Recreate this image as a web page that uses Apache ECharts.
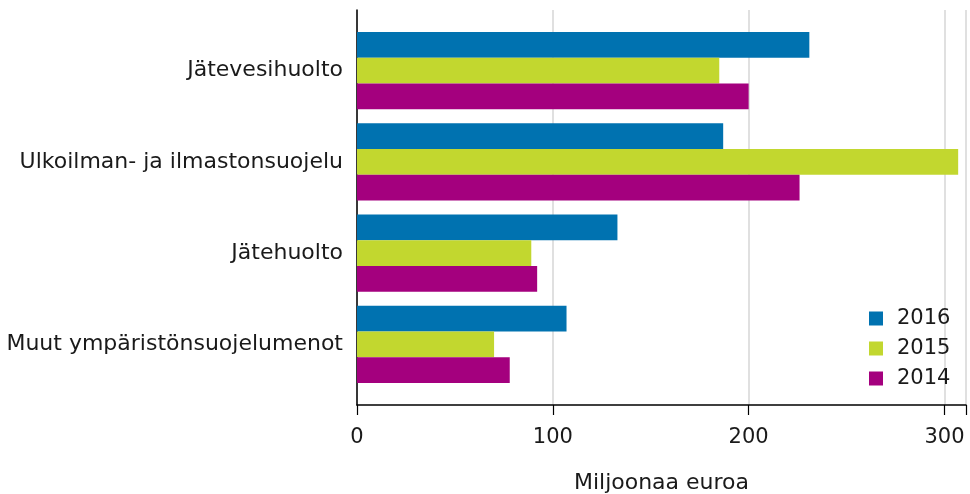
<!DOCTYPE html>
<html>
<head>
<meta charset="utf-8">
<script src="https://cdn.jsdelivr.net/npm/echarts@6/dist/echarts.min.js"></script>
<style>html,body{margin:0;padding:0;background:#fff}#c{width:970px;height:494px}</style>
</head>
<body>
<div id="c"></div>
<script>
const categories = ['Jätevesihuolto', 'Ulkoilman- ja ilmastonsuojelu', 'Jätehuolto', 'Muut ympäristönsuojelumenot'];
const years = ['2016', '2015', '2014'];
const values2016 = [231, 187, 133, 107];
const values2015 = [185, 307, 89, 70];
const values2014 = [200, 226, 92, 78];
const xTicks = [0, 100, 200, 300];
const axisName = 'Miljoonaa euroa';

const colors = ['#0072b0', '#c2d72f', '#a4007e'];
const font = 'DejaVu Sans';
const seriesValues = [values2016, values2015, values2014];

const chart = echarts.init(document.getElementById('c'), null, {renderer: 'canvas'});
chart.setOption({
  animation: false,
  textStyle: {fontFamily: font},
  grid: [
    {left: 357, right: 4, top: 10, bottom: 89, outerBoundsMode: 'none', containLabel: false},
    {left: 357, right: 4, top: 25, bottom: 104, outerBoundsMode: 'none', containLabel: false}
  ],
  xAxis: [
    {
      gridIndex: 0, type: 'value', min: 0, max: 311, interval: 100,
      axisLine: {show: true, lineStyle: {color: '#000', width: 1.5}},
      axisTick: {show: true, length: 10, lineStyle: {color: '#000', width: 1.2}},
      splitLine: {show: true, lineStyle: {color: '#d6d6d6', width: 1.5}},
      axisLabel: {
        color: '#1a1a1a', fontSize: 21, fontFamily: font, margin: 22,
        formatter: v => xTicks.indexOf(v) >= 0 ? String(v) : ''
      },
      name: axisName, nameLocation: 'middle', nameGap: 67,
      nameTextStyle: {color: '#1a1a1a', fontSize: 22, fontFamily: font}
    },
    {gridIndex: 1, type: 'value', min: 0, max: 311, show: false}
  ],
  yAxis: [
    {
      gridIndex: 0, type: 'value', min: 0, max: 1,
      axisLine: {show: true, lineStyle: {color: '#000', width: 1.5}},
      axisTick: {show: false}, axisLabel: {show: false}, splitLine: {show: false}
    },
    {
      gridIndex: 1, type: 'category', data: categories, inverse: true,
      axisLine: {show: false}, axisTick: {show: false}, splitLine: {show: false},
      axisLabel: {color: '#1a1a1a', fontSize: 22, fontFamily: font, margin: 14}
    }
  ],
  legend: {
    orient: 'vertical', left: 864, top: 303,
    itemWidth: 14, itemHeight: 14, itemGap: 9, icon: 'rect',
    textStyle: {color: '#1a1a1a', fontSize: 21, fontFamily: font, padding: [0, 0, 0, 9]},
    data: years
  },
  series: years.map((y, i) => ({
    name: y, type: 'bar', xAxisIndex: 1, yAxisIndex: 1,
    data: seriesValues[i],
    barGap: '0%', barCategoryGap: '15.6%',
    itemStyle: {color: colors[i]}
  }))
});
</script>
</body>
</html>
